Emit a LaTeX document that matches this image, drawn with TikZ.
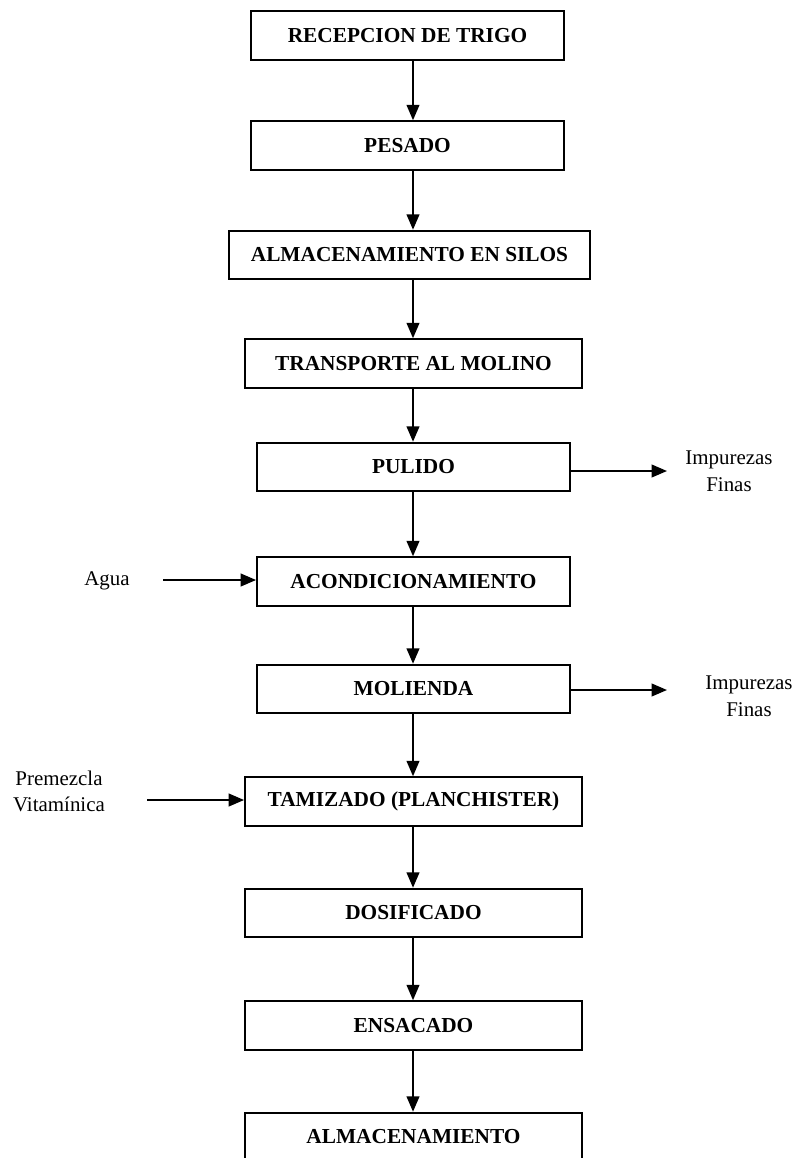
\documentclass[tikz,border=0pt]{standalone}
\usepackage{fontspec}
\setmainfont{Liberation Serif}
\usetikzlibrary{arrows.meta}

\begin{document}
\begin{tikzpicture}[x=0.75pt, y=-0.75pt, >={Triangle[length=11.5pt,width=9.5pt]}, line width=1.4pt,
		paso/.style={draw, minimum height=36.5pt, inner sep=0pt, font=\fontsize{16}{18}\selectfont\bfseries},
		lado/.style={align=center, inner sep=2pt, font=\fontsize{15.7}{20}\selectfont}]
	\useasboundingbox (0,0) rectangle (797,1158);
	
	% === etapas del proceso ===
	\node[paso, minimum width=234.75pt] (recepcion) at (407.5,35.5) {RECEPCION DE TRIGO};
	\node[paso, minimum width=234.75pt] (pesado) at (407.5,145.5) {PESADO};
	\node[paso, minimum width=270.75pt] (silos) at (409.5,255) {ALMACENAMIENTO EN SILOS};
	\node[paso, minimum width=252.75pt] (transporte) at (413.5,363.5) {TRANSPORTE AL MOLINO};
	\node[paso, minimum width=234.75pt] (pulido) at (413.5,467) {PULIDO};
	\node[paso, minimum width=234.75pt] (acond) at (413.5,581.5) {ACONDICIONAMIENTO};
	\node[paso, minimum width=234.75pt] (molienda) at (413.5,689) {MOLIENDA};
	\node[paso, minimum width=252.75pt] (tamizado) at (413.5,801.5) {TAMIZADO (PLANCHISTER)};
	\node[paso, minimum width=252.75pt] (dosificado) at (413.5,913) {DOSIFICADO};
	\node[paso, minimum width=252.75pt] (ensacado) at (413.5,1025.5) {ENSACADO};
	\node[paso, minimum width=252.75pt] (almacen) at (413.5,1137) {ALMACENAMIENTO};
	
	% === flujo principal ===
	\coordinate (eje) at (413,0);
	\draw[->] (recepcion.south -| eje) -- (pesado.north -| eje);
	\draw[->] (pesado.south -| eje) -- (silos.north -| eje);
	\draw[->] (silos.south -| eje) -- (transporte.north -| eje);
	\draw[->] (transporte.south -| eje) -- (pulido.north -| eje);
	\draw[->] (pulido.south -| eje) -- (acond.north -| eje);
	\draw[->] (acond.south -| eje) -- (molienda.north -| eje);
	\draw[->] (molienda.south -| eje) -- (tamizado.north -| eje);
	\draw[->] (tamizado.south -| eje) -- (dosificado.north -| eje);
	\draw[->] (dosificado.south -| eje) -- (ensacado.north -| eje);
	\draw[->] (ensacado.south -| eje) -- (almacen.north -| eje);
	
	% === entradas y salidas ===
	\node[lado] (imp1) at (729,471.5) {Impurezas\\Finas};
	\node[lado] (imp2) at (749,696.5) {Impurezas\\Finas};
	\node[lado] (agua) at (107,581) {Agua};
	\node[lado] (premezcla) at (59,791.5) {Premezcla\\Vitamínica};
	
	\coordinate (sal1) at (667,471);
	\coordinate (sal2) at (667,690);
	\coordinate (ent1) at (163,580);
	\coordinate (ent2) at (147,800);
	\draw[->] (pulido.east |- sal1) -- (sal1);
	\draw[->] (molienda.east |- sal2) -- (sal2);
	\draw[->] (ent1) -- (acond.west |- ent1);
	\draw[->] (ent2) -- (tamizado.west |- ent2);
\end{tikzpicture}
\end{document}
